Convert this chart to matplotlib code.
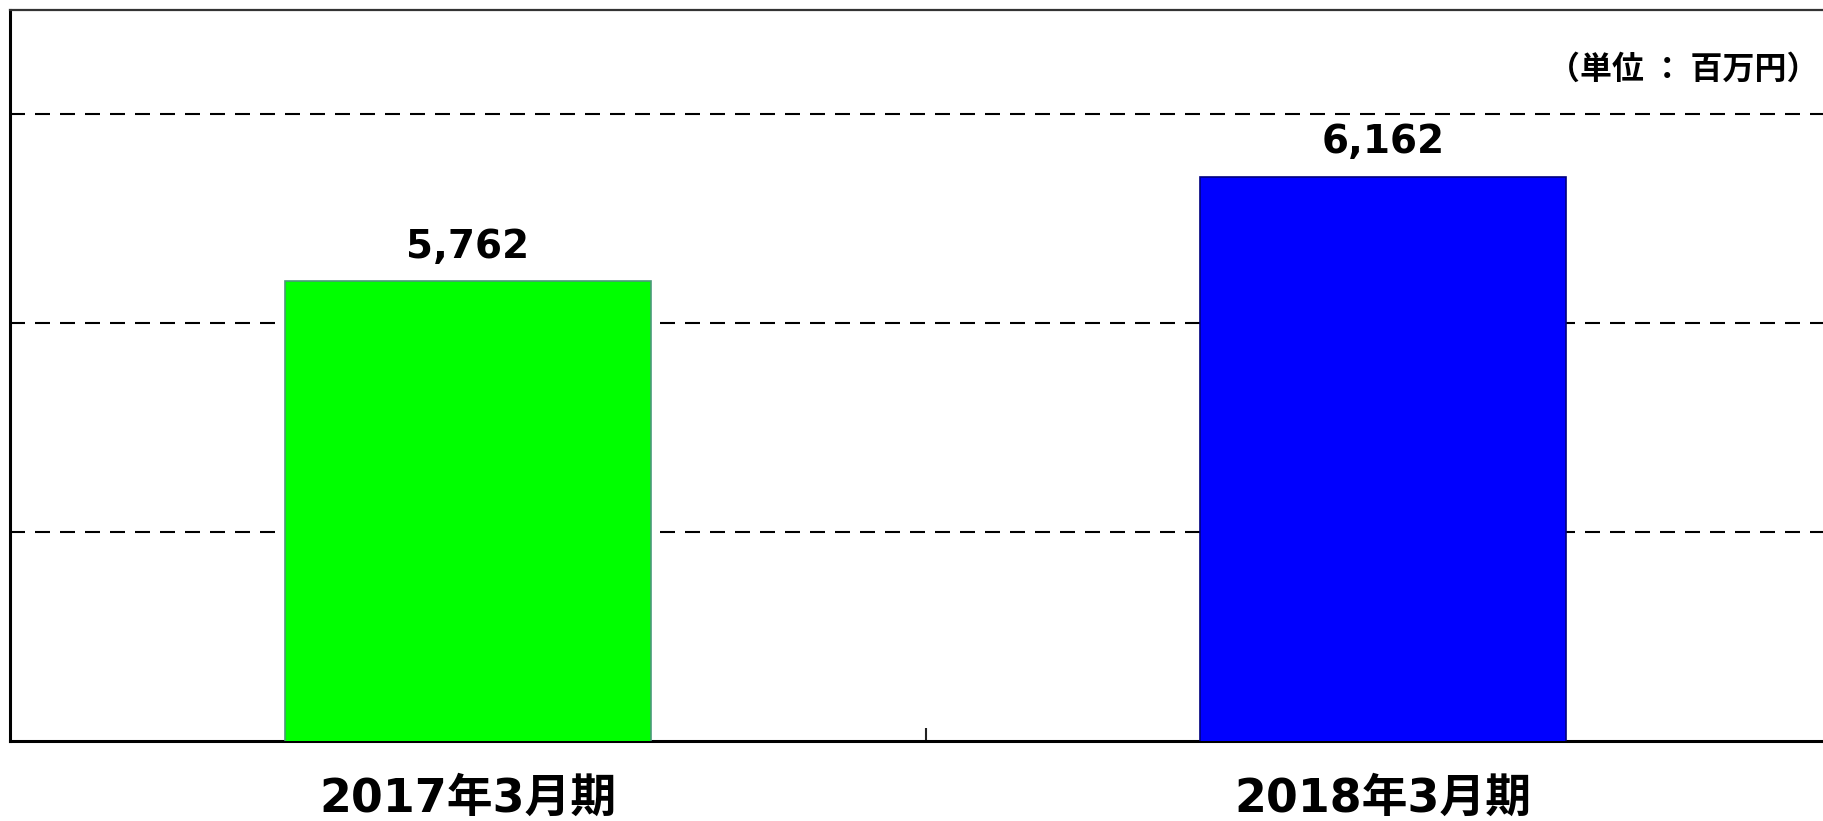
import matplotlib
matplotlib.use('Agg')
import matplotlib.pyplot as plt

# Données (millions de yens)
categories = ['2017年3月期', '2018年3月期']
valeurs = [5762, 6162]
couleurs = ['#00ff00', '#0000ff']
bords = ['#4a9a7a', '#000080']
grille = [4800, 5600, 6400]
unite = '（単位 ： 百万円）'

plt.rcParams['font.family'] = ['DejaVu Sans', 'Noto Sans CJK JP']

fig = plt.figure(figsize=(18.23, 8.21), dpi=100)
ax = fig.add_axes([10 / 1823, 80 / 821, 1831 / 1823, 731 / 821])

x = list(range(len(categories)))
bars = ax.bar(x, valeurs, width=0.4, color=couleurs, edgecolor=bords,
              linewidth=1.2, zorder=3)

for xi, v in zip(x, valeurs):
    ax.annotate(f'{v:,}', (xi, v), xytext=(0, 11), textcoords='offset points',
                ha='center', va='bottom', fontsize=28, fontweight='bold',
                color='black')

ax.set_xlim(-0.5, 1.5)
ax.set_ylim(4000, 6800)
ax.set_yticks(grille)
ax.set_yticklabels([])
ax.tick_params(axis='y', length=0)
ax.yaxis.grid(True, color='black', linewidth=1.5, dashes=(7.2, 4.8), zorder=0)
ax.set_axisbelow(True)

ax.set_xticks(x)
ax.set_xticklabels(categories, fontsize=33, fontweight='bold',
                   family=['DejaVu Sans', 'Noto Sans CJK JP'])
ax.tick_params(axis='x', which='major', length=0, pad=26)
ax.set_xticks([0.5], minor=True)
ax.tick_params(axis='x', which='minor', direction='in', length=9.5,
               width=1.5, color='#222222')

for s in ['left', 'bottom']:
    ax.spines[s].set_linewidth(2.2)
    ax.spines[s].set_color('black')
ax.spines['top'].set_linewidth(1.6)
ax.spines['top'].set_color('#333333')
ax.spines['right'].set_visible(False)

fig.text(1819 / 1823, 1 - 70 / 821, unite, ha='right', va='center',
         fontsize=23, fontweight='bold', family=['Noto Sans CJK JP'])

fig.savefig('out.png', dpi=100)
